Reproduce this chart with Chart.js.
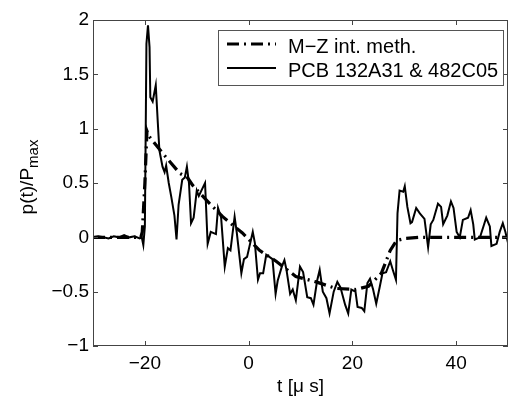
<!DOCTYPE html>
<html>
<head>
<meta charset="utf-8">
<script src="https://cdn.jsdelivr.net/npm/chart.js@4.4.1/dist/chart.umd.min.js"></script>
<style>
html,body{margin:0;padding:0;background:#fff;}
canvas{display:block;}
</style>
</head>
<body>
<canvas id="c" width="509" height="396"></canvas>
<script>
// ---- data ----
const seriesNames = ["M\u2212Z int. meth.", "PCB 132A31 & 482C05"];
const xTickValues = [-20, 0, 20, 40];
const yTickValues = [-1, -0.5, 0, 0.5, 1, 1.5, 2];

const tDash = [-30,-25,-20.8,-20.5,-20.0,-19.6,-19.2,-16.5,-13.3,-11.8,-10.8,-7.5,-5.0,-1.2,2.1,5.3,9.1,13.0,16.8,20.6,23.1,25.6,27.3,28.5,30.2,33,40,50];
const pDash = [0,0,0,0.05,0.5,0.98,0.93,0.77,0.59,0.55,0.48,0.31,0.19,0.04,-0.12,-0.22,-0.36,-0.41,-0.47,-0.48,-0.45,-0.33,-0.12,-0.03,-0.01,0,0,0];

const tSolid = [-30,-29,-28,-27,-26,-25,-24,-23,-22,-21,
  -20.6,-20.3,-20.0,-19.8,-19.7,-19.4,-19.1,-18.95,-18.5,-17.9,
  -17.5,-17.2,-16.6,-16.2,-15.9,-15.4,-14.9,-14.3,-13.9,-13.5,
  -12.8,-12.3,-11.9,-11.5,-11.1,-10.6,-10.0,-9.6,-8.9,-8.4,
  -7.9,-7.3,-6.3,-5.9,-5.3,-4.6,-4.0,-3.5,-2.7,-2.3,
  -1.4,-0.9,-0.3,0.8,1.2,1.8,2.2,2.8,3.4,4.0,
  4.6,5.2,5.6,6.4,6.9,7.3,8.0,8.5,9.1,9.9,
  10.5,11.3,12.0,12.5,13.2,13.7,14.3,15.0,15.6,16.4,
  17.1,17.7,18.6,19.2,19.8,20.6,21.0,21.8,22.3,22.9,
  23.4,24.0,24.6,25.3,25.8,26.5,27.3,27.8,28.4,28.7,
  29.1,29.8,30.1,30.6,31.2,31.5,32.3,33.0,33.9,34.6,
  35.1,35.6,36.5,37.1,37.5,38.3,39.0,39.5,40.1,40.7,
  41.3,42.3,42.8,43.3,43.6,44.6,45.4,45.8,46.5,46.8,
  47.8,48.4,49.0,49.5,50];
const pSolid = [0.0,0.01,0.0,-0.01,0.01,0.0,0.02,0.0,0.01,-0.01,
  0.0,-0.07,0.1,1.2,1.78,1.95,1.75,1.29,1.25,1.40,
  1.05,0.80,0.65,0.60,0.66,0.50,0.37,0.20,-0.02,0.30,
  0.53,0.55,0.65,0.50,0.13,0.18,0.43,0.38,0.45,0.50,
  -0.06,0.05,0.03,0.27,0.18,-0.27,-0.10,-0.12,0.19,0.05,
  -0.33,-0.20,-0.18,0.05,-0.05,-0.39,-0.33,-0.33,-0.16,-0.18,
  -0.20,-0.52,-0.40,-0.27,-0.21,-0.30,-0.52,-0.48,-0.58,-0.27,
  -0.32,-0.55,-0.56,-0.62,-0.40,-0.30,-0.50,-0.56,-0.70,-0.50,
  -0.41,-0.46,-0.62,-0.70,-0.48,-0.50,-0.64,-0.65,-0.68,-0.42,
  -0.38,-0.48,-0.61,-0.45,-0.33,-0.32,-0.22,-0.30,-0.39,0.22,
  0.43,0.42,0.47,0.28,0.13,0.14,0.27,0.22,0.17,-0.09,
  0.12,0.16,0.31,0.28,0.12,0.20,0.33,0.27,0.05,0.00,
  0.16,0.18,0.25,0.12,-0.02,0.00,0.12,0.18,0.10,-0.08,
  -0.06,0.05,0.13,0.05,-0.05];

// ---- chart ----
const FONT = "'Liberation Sans', Arial, Helvetica, sans-serif";
const AXIS_COLOR = '#444';
const toPts = (xs, ys) => xs.map((x, i) => ({x: x, y: ys[i]}));
const fmt = v => String(v).replace('-', '\u2212');

const decor = {
  id: 'decor',
  afterDraw(chart) {
    const ctx = chart.ctx;
    const a = chart.chartArea;
    const xs = chart.scales.x, ys = chart.scales.y;
    ctx.save();
    // frame
    ctx.strokeStyle = AXIS_COLOR;
    ctx.lineWidth = 1;
    ctx.strokeRect(a.left + 0.5, a.top + 0.5, a.right - a.left - 1, a.bottom - a.top - 1);
    // inward ticks
    ctx.beginPath();
    xTickValues.forEach(v => {
      const p = Math.round(xs.getPixelForValue(v)) + 0.5;
      ctx.moveTo(p, a.bottom); ctx.lineTo(p, a.bottom - 5);
      ctx.moveTo(p, a.top); ctx.lineTo(p, a.top + 5);
    });
    yTickValues.forEach(v => {
      const p = Math.round(ys.getPixelForValue(v)) + 0.5;
      ctx.moveTo(a.left, p); ctx.lineTo(a.left + 5, p);
      ctx.moveTo(a.right, p); ctx.lineTo(a.right - 5, p);
    });
    ctx.stroke();

    // legend
    const lx = 218, ly = 30, lw = 285, lh = 55;
    ctx.fillStyle = '#fff';
    ctx.fillRect(lx, ly, lw, lh);
    ctx.strokeStyle = '#555';
    ctx.strokeRect(lx + 0.5, ly + 0.5, lw, lh);
    const rows = [44, 68];
    chart.data.datasets.forEach((ds, i) => {
      ctx.save();
      ctx.strokeStyle = ds.borderColor;
      ctx.lineWidth = ds.borderWidth;
      ctx.setLineDash(ds.borderDash || []);
      ctx.beginPath();
      ctx.moveTo(227, rows[i]); ctx.lineTo(276, rows[i]);
      ctx.stroke();
      ctx.restore();
      ctx.fillStyle = '#000';
      ctx.font = '20px ' + FONT;
      ctx.textAlign = 'left';
      ctx.textBaseline = 'middle';
      ctx.fillText(ds.label, 288, rows[i] + 3);
    });

    // x title
    ctx.fillStyle = '#000';
    ctx.font = '19px ' + FONT;
    ctx.textAlign = 'center';
    ctx.textBaseline = 'alphabetic';
    ctx.fillText('t [\u03bc s]', (a.left + a.right) / 2, 392);

    // y title with subscript
    const main = 'p(t)/P', sub = 'max';
    ctx.font = '19px ' + FONT;
    const w1 = ctx.measureText(main).width;
    ctx.font = '15px ' + FONT;
    const w2 = ctx.measureText(sub).width;
    const total = w1 + w2;
    ctx.translate(33, 177 + total / 2);
    ctx.rotate(-Math.PI / 2);
    ctx.textAlign = 'left';
    ctx.font = '19px ' + FONT;
    ctx.fillText(main, 0, 0);
    ctx.font = '15px ' + FONT;
    ctx.fillText(sub, w1, 5);
    ctx.restore();
  }
};

new Chart(document.getElementById('c'), {
  type: 'line',
  data: {
    datasets: [
      {
        label: seriesNames[0],
        data: toPts(tDash, pDash),
        borderColor: '#000',
        borderWidth: 3.2,
        borderDash: [12, 5, 2, 5],
        pointRadius: 0,
        tension: 0,
        fill: false
      },
      {
        label: seriesNames[1],
        data: toPts(tSolid, pSolid),
        borderColor: '#000',
        borderWidth: 2,
        pointRadius: 0,
        tension: 0,
        fill: false
      }
    ]
  },
  options: {
    responsive: false,
    animation: false,
    devicePixelRatio: 1,
    layout: {padding: {left: 0, right: 1, top: 20, bottom: 0}},
    plugins: {legend: {display: false}, tooltip: {enabled: false}},
    scales: {
      x: {
        type: 'linear',
        min: -30, max: 50,
        afterBuildTicks: s => { s.ticks = xTickValues.map(v => ({value: v})); },
        afterFit: s => { s.height = 50; },
        grid: {display: false, drawTicks: false},
        border: {display: false},
        ticks: {
          color: '#000', padding: 6, maxRotation: 0, autoSkip: false,
          font: {family: FONT, size: 19},
          callback: v => fmt(v)
        }
      },
      y: {
        type: 'linear',
        min: -1, max: 2,
        afterBuildTicks: s => { s.ticks = yTickValues.map(v => ({value: v})); },
        afterFit: s => { s.width = 93; },
        grid: {display: false, drawTicks: false},
        border: {display: false},
        ticks: {
          color: '#000', padding: 4, autoSkip: false,
          font: {family: FONT, size: 19},
          callback: v => fmt(v)
        }
      }
    }
  },
  plugins: [decor]
});
</script>
</body>
</html>
